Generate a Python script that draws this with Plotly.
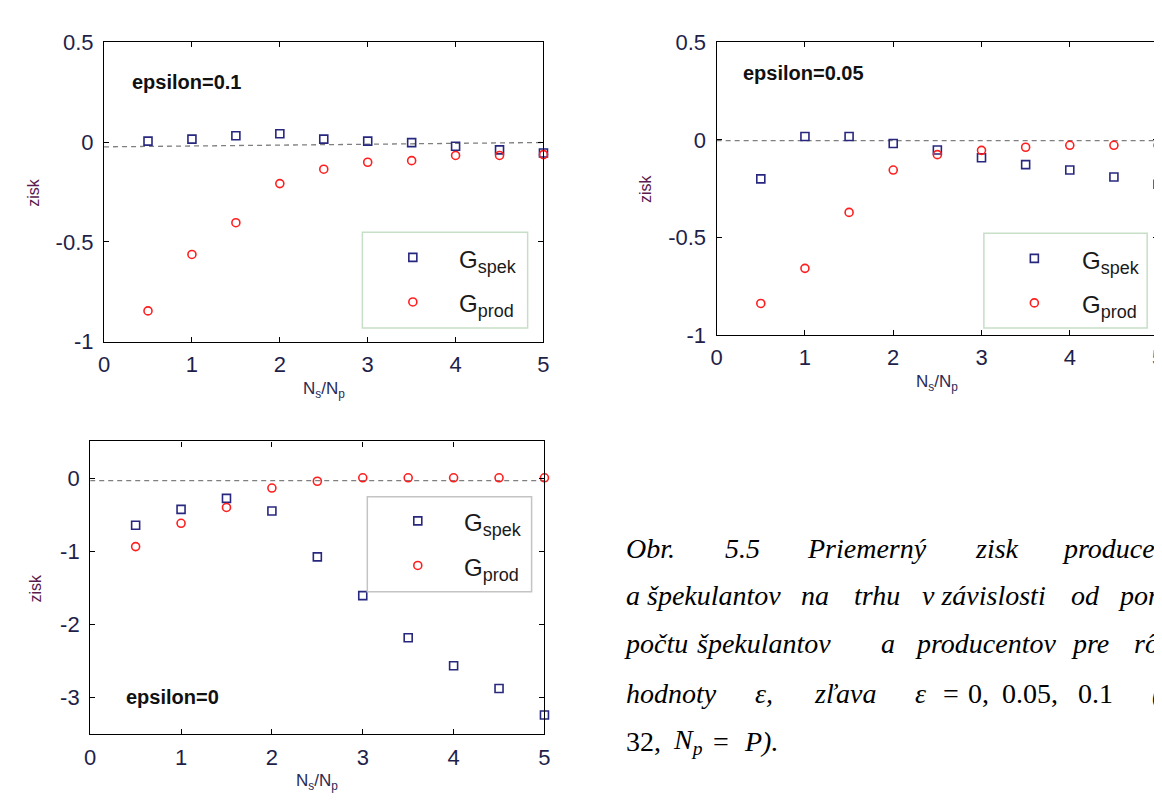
import plotly.graph_objects as go

W, H = 1162, 803

# ---------------- data ----------------
ratio = [0.5, 1, 1.5, 2, 2.5, 3, 3.5, 4, 4.5, 5]

# epsilon = 0.1 (top-left)
spek_e01 = [0.005, 0.015, 0.032, 0.042, 0.015, 0.005, -0.003, -0.021, -0.039, -0.055]
prod_e01 = [-0.846, -0.563, -0.404, -0.208, -0.136, -0.101, -0.093, -0.067, -0.067, -0.063]
ref_x_e01 = [0, 5]
ref_y_e01 = [-0.024, -0.002]

# epsilon = 0.05 (top-right)
spek_e005 = [-0.200, 0.017, 0.017, -0.019, -0.052, -0.092, -0.127, -0.155, -0.191, -0.228]
prod_e005 = [-0.839, -0.659, -0.372, -0.155, -0.076, -0.054, -0.038, -0.028, -0.028, -0.028]
ref_x_e005 = [0, 5]
ref_y_e005 = [-0.004, -0.004]

# epsilon = 0 (bottom-left)
spek_e0 = [-0.645, -0.429, -0.278, -0.451, -1.078, -1.608, -2.183, -2.567, -2.877, -3.239]
prod_e0 = [-0.937, -0.619, -0.402, -0.137, -0.044, 0.003, 0.003, 0.003, 0.003, 0.003]
ref_x_e0 = [0, 5]
ref_y_e0 = [-0.035, -0.035]

x_ticks = [0, 1, 2, 3, 4, 5]
x_ticktext = ["0", "1", "2", "3", "4", "5"]
y_ticks_top = [-1, -0.5, 0, 0.5]
y_ticktext_top = ["-1", "-0.5", "0", "0.5"]
y_ticks_bot = [-3, -2, -1, 0]
y_ticktext_bot = ["-3", "-2", "-1", "0"]

series_names = ["G<sub>spek</sub>", "G<sub>prod</sub>"]
panel_labels = ["epsilon=0.1", "epsilon=0.05", "epsilon=0"]

caption_words = [
    # (text, left x px, center y px)
    ("Obr.", 616, 545), ("5.5", 716, 545), ("Priemerný", 799, 545), ("zisk", 969, 545),
    ("producentov", 1057, 545),
    ("a špekulantov", 616, 594), ("na", 793, 594), ("trhu", 847, 594),
    ("v závislosti", 915, 594), ("od", 1066, 594), ("pomere", 1114, 594),
    ("počtu", 614, 644), ("špekulantov", 688, 644), ("a", 874, 644), ("producentov", 908, 644),
    ("pre", 1066, 644), ("rôzne", 1130, 644),
    ("hodnoty", 616, 695), ("ε,", 747, 695), ("zľava", 806, 695),
]
caption_math = [
    ("<i>ε</i>", 908, 695), ("=", 937, 695), ("0,", 962, 695), ("0.05,", 996, 695),
    ("0.1", 1073, 695), ("<i>(P</i> =", 1148, 695),
    ("32,", 616, 745), ("<i>N<sub>p</sub></i>", 664, 745), ("=", 704, 745), ("<i>P).</i>", 736, 745),
]

# ---------------- styling ----------------
NAVY = "#27277f"
RED = "#ff1e1e"
TICK_COL = "#1f1f4a"
ZISK_COL = "#5a1a4e"


def px(x):
    return x / W


def py(y):
    return 1 - y / H


panels = [
    dict(ax="", xr=(91, 535), yr=(23, 332), rng=[-1, 0.5], yt=y_ticks_top, ytt=y_ticktext_top,
         spek=spek_e01, prod=prod_e01, rx=ref_x_e01, ry=ref_y_e01,
         lab=panel_labels[0], labpos=(0.30, 0.30),
         leg=(352, 519, 219, 318, 403, 245, 291, 448), legcol="#c6dfc6", ztx=20),
    dict(ax="2", xr=(710, 1156), yr=(23, 325), rng=[-1, 0.5], yt=y_ticks_top, ytt=y_ticktext_top,
         spek=spek_e005, prod=prod_e005, rx=ref_x_e005, ry=ref_y_e005,
         lab=panel_labels[1], labpos=(0.28, 0.34),
         leg=(980, 1145, 220, 318, 1031, 246, 292, 1077), legcol="#c6dfc6", ztx=638),
    dict(ax="3", xr=(77, 536), yr=(435, 737), rng=[-3.5, 0.5], yt=y_ticks_bot, ytt=y_ticktext_bot,
         spek=spek_e0, prod=prod_e0, rx=ref_x_e0, ry=ref_y_e0,
         lab=panel_labels[2], labpos=(0.37, -3.0),
         leg=(357, 523, 492, 590, 408, 517, 563, 453), legcol="#c4c4c4", ztx=22),
]

fig = go.Figure()
shapes = []
annotations = []
layout_axes = {}

for p in panels:
    xa = "x" + p["ax"]
    ya = "y" + p["ax"]
    fig.add_trace(go.Scatter(x=p["rx"], y=p["ry"], mode="lines", xaxis=xa, yaxis=ya,
                             line=dict(color="#7f7f7f", width=1.3, dash="5px,4px"),
                             showlegend=False, hoverinfo="skip"))
    fig.add_trace(go.Scatter(x=ratio, y=p["spek"], mode="markers", xaxis=xa, yaxis=ya,
                             name=series_names[0], showlegend=False, cliponaxis=False,
                             marker=dict(symbol="square-open", size=8, color=NAVY,
                                         line=dict(width=1.6, color=NAVY))))
    fig.add_trace(go.Scatter(x=ratio, y=p["prod"], mode="markers", xaxis=xa, yaxis=ya,
                             name=series_names[1], showlegend=False, cliponaxis=False,
                             marker=dict(symbol="circle-open", size=8, color=RED,
                                         line=dict(width=1.6, color=RED))))

    x0, x1 = p["xr"]
    y0, y1 = p["yr"]
    common = dict(showgrid=False, zeroline=False, showline=True, linecolor="black", linewidth=1.3,
                  mirror="ticks", ticks="inside", ticklen=5, tickcolor="black", tickwidth=1.3,
                  tickfont=dict(family="Arial", size=22, color=TICK_COL))
    layout_axes["xaxis" + p["ax"]] = dict(
        common, domain=[px(x0), px(x1)], range=[0, 5], anchor=ya,
        tickvals=x_ticks, ticktext=x_ticktext, ticklabelstandoff=3)
    layout_axes["yaxis" + p["ax"]] = dict(
        common, domain=[py(y1), py(y0)], range=p["rng"], anchor=xa,
        tickvals=p["yt"], ticktext=p["ytt"], ticklabelstandoff=5)

    annotations.append(dict(text="<b>" + p["lab"] + "</b>", x=p["labpos"][0], y=p["labpos"][1],
                            xref=xa, yref=ya, xanchor="left", yanchor="middle", showarrow=False,
                            font=dict(family="Arial", size=20, color="#111111")))
    annotations.append(dict(text="zisk", x=px(p["ztx"]), y=py((y0 + y1) / 2), xref="paper", yref="paper",
                            textangle=-90, showarrow=False, xanchor="center", yanchor="middle",
                            font=dict(family="Arial", size=16, color=ZISK_COL)))
    annotations.append(dict(text="N<sub>s</sub>/N<sub>p</sub>", x=px((x0 + x1) / 2), y=py(y1 + 50),
                            xref="paper", yref="paper", showarrow=False, xanchor="center",
                            yanchor="middle", font=dict(family="Arial", size=17, color="#2a2a55")))

    lx0, lx1, ly0, ly1, mx, my1, my2, tx = p["leg"]
    shapes.append(dict(type="rect", xref="paper", yref="paper", x0=px(lx0), x1=px(lx1),
                       y0=py(ly1), y1=py(ly0), line=dict(color=p["legcol"], width=1.5),
                       fillcolor="white", layer="above"))
    shapes.append(dict(type="rect", xref="paper", yref="paper", xsizemode="pixel", ysizemode="pixel",
                       xanchor=px(mx), yanchor=py(my1), x0=-4, x1=4, y0=-4, y1=4,
                       line=dict(color=NAVY, width=1.6), layer="above"))
    shapes.append(dict(type="circle", xref="paper", yref="paper", xsizemode="pixel", ysizemode="pixel",
                       xanchor=px(mx), yanchor=py(my2), x0=-4, x1=4, y0=-4, y1=4,
                       line=dict(color=RED, width=1.6), layer="above"))
    for name, yy in zip(series_names, (my1, my2)):
        annotations.append(dict(text=name.replace("<sub>", "<sub><span style='font-size:18px'>")
                                .replace("</sub>", "</span></sub>"),
                                x=px(tx), y=py(yy + 4), xref="paper", yref="paper", showarrow=False,
                                xanchor="left", yanchor="middle",
                                font=dict(family="Arial", size=24, color="#1a1a1a")))

for txt, x, y in caption_words:
    annotations.append(dict(text="<i>" + txt + "</i>", x=px(x), y=py(y), xref="paper", yref="paper",
                            showarrow=False, xanchor="left", yanchor="middle",
                            font=dict(family="Liberation Serif", size=28, color="black")))
for txt, x, y in caption_math:
    annotations.append(dict(text=txt, x=px(x), y=py(y), xref="paper", yref="paper",
                            showarrow=False, xanchor="left", yanchor="middle",
                            font=dict(family="Liberation Serif", size=28, color="black")))

fig.update_layout(
    width=W, height=H, autosize=False,
    margin=dict(l=0, r=0, t=0, b=0),
    paper_bgcolor="white", plot_bgcolor="white",
    showlegend=False,
    shapes=shapes, annotations=annotations,
    **layout_axes,
)

fig.write_html("out.html")
